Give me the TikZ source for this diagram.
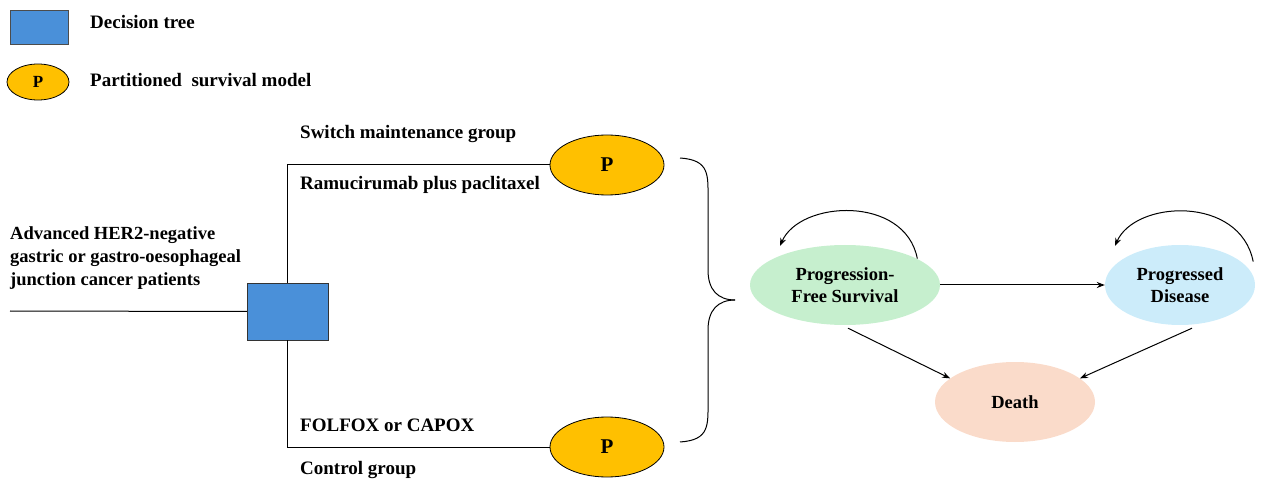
\documentclass[tikz,border=0pt]{standalone}
\usepackage{fontspec}
\setmainfont{Liberation Serif}
\usetikzlibrary{shapes.geometric,arrows.meta}
\begin{document}
\begin{tikzpicture}[x=1pt,y=-1pt,
  lbl/.style={font=\bfseries\fontsize{19}{21}\selectfont,anchor=west,inner sep=0},
  pnode/.style={ellipse,draw=black,line width=0.8pt,fill={rgb,255:red,255;green,192;blue,0},minimum width=114pt,minimum height=60pt,font=\bfseries\fontsize{21}{23}\selectfont},
  state/.style={ellipse,draw=none,minimum height=80pt,align=center,font=\bfseries\fontsize{18.5}{22}\selectfont},
  ln/.style={line width=1pt},
  arr/.style={line width=1pt,-{Stealth[length=8pt,width=6pt]}}]
\useasboundingbox (0,0) rectangle (1280,486);
% legend
\node[draw=black!70,fill={rgb,255:red,74;green,144;blue,217},minimum width=58pt,minimum height=34pt,inner sep=0] (lsq) at (39,27) {};
\node[lbl] (lt1) at (90,22) {Decision tree};
\node[ellipse,draw=black,line width=0.8pt,fill={rgb,255:red,255;green,192;blue,0},minimum width=62pt,minimum height=36pt,inner sep=0,font=\bfseries\fontsize{17}{19}\selectfont] (lel) at (38,82) {P};
\node[lbl] (lt2) at (90,80) {Partitioned\ \ survival model};
% tree
\node[lbl,align=left,font=\bfseries\fontsize{18.5}{23}\selectfont] (pt) at (10,258) {Advanced HER2-negative\\gastric or gastro-oesophageal\\junction cancer patients};
\coordinate (start) at (10,311);
\node[draw=black!80,fill={rgb,255:red,74;green,144;blue,217},minimum width=81pt,minimum height=57pt,inner sep=0] (dt) at (287.5,311.5) {};
\node[pnode] (p1) at (607,165) {P};
\node[pnode] (p2) at (607,447) {P};
\draw[ln] (start) -- (dt.west);
\draw[ln] (dt.north) |- (p1.west);
\draw[ln] (dt.south) |- (p2.west);
\node[lbl] at (300,134) {Switch maintenance group};
\node[lbl] at (300,185) {Ramucirumab plus paclitaxel};
\node[lbl] at (300,425) {FOLFOX or CAPOX};
\node[lbl] at (300,470) {Control group};
% brace
\coordinate (b1) at (680,158); \coordinate (b2) at (680,442); \coordinate (bt) at (735,300);
\draw[ln] (b1) .. controls (710,160) and (708,175) .. (708,200) -- (708,270) .. controls (708,290) and (718,300) .. (bt);
\draw[ln] (b2) .. controls (710,440) and (708,425) .. (708,400) -- (708,330) .. controls (708,310) and (718,300) .. (bt);
% states
\node[state,fill={rgb,255:red,198;green,239;blue,206},minimum width=190pt] (pfs) at (845,285) {Progression-\\Free Survival};
\node[state,fill={rgb,255:red,204;green,236;blue,250},minimum width=150pt] (pd) at (1180,285) {Progressed\\Disease};
\node[state,fill={rgb,255:red,250;green,219;blue,202},minimum width=160pt] (death) at (1015,402) {Death};
\draw[arr] (pfs.east) -- (pd.west);
\draw[arr] (pfs.south) ++(3,3) coordinate (s1) -- (death.160);
\draw[arr] (pd.south) ++(12,3) coordinate (s2) -- (death.20);
\draw[arr] (pfs.north east) ++(5,2) coordinate (l1) .. controls (905,195) and (800,200) .. (780,246);
\draw[arr] (pd.north east) ++(20,5) coordinate (l2) .. controls (1240,195) and (1135,200) .. (1115,246);
\end{tikzpicture}
\end{document}
